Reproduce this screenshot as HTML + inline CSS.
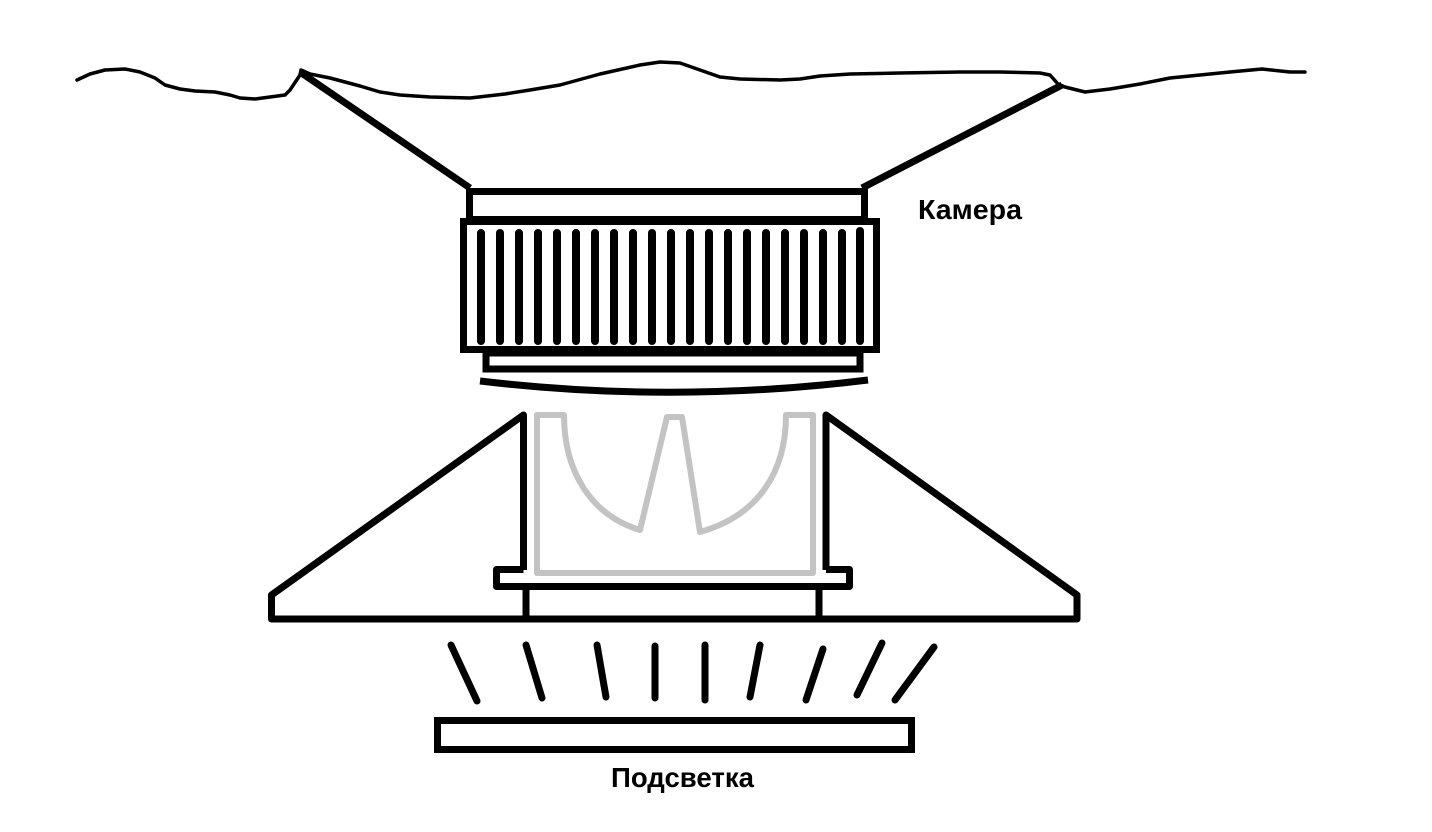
<!DOCTYPE html>
<html><head><meta charset="utf-8"><style>
html,body{margin:0;padding:0;background:#fff;}
svg{display:block;}
text{font-family:"Liberation Sans",sans-serif;font-weight:bold;font-size:28px;fill:#000;}
</style></head><body>
<svg width="1432" height="832" viewBox="0 0 1432 832" xmlns="http://www.w3.org/2000/svg">
<rect width="1432" height="832" fill="#fff"/>
<polyline fill="none" stroke="#000" stroke-width="3.5" stroke-linejoin="round" stroke-linecap="round"
 points="77,80 90,74 105,70 125,69 140,72 155,78 165,85 180,89 195,91 215,92 230,95 240,98 255,99 285,95 290,90 300,75 301,70 310,74 330,78 360,86 380,92 400,95 430,97 470,98 505,94 530,90 560,85 600,74 640,65 660,62 680,63 700,70 720,77 740,79 780,80 800,79 820,76 850,74 900,73 960,72 1000,72 1040,73 1050,75 1058,84 1065,87 1085,92 1110,89 1140,84 1170,78 1200,75 1230,72 1262,69 1290,72 1305,72"/>
<line x1="300" y1="72" x2="470" y2="188" stroke="#000" stroke-width="7"/>
<line x1="862" y1="188" x2="1062" y2="85" stroke="#000" stroke-width="7"/>
<rect x="469.5" y="191.5" width="395" height="28" fill="none" stroke="#000" stroke-width="7"/>
<rect x="463.5" y="221.5" width="413" height="128" fill="#fff" stroke="#000" stroke-width="7"/>
<rect x="486" y="353" width="374" height="16" fill="none" stroke="#000" stroke-width="7"/>
<path d="M480,381 Q674,404 868,380" fill="none" stroke="#000" stroke-width="7"/>
<g stroke="#000" stroke-width="8" stroke-linecap="round">
<line x1="481" y1="233" x2="481" y2="341"/><line x1="500" y1="233" x2="500" y2="341"/>
<line x1="519" y1="233" x2="519" y2="341"/><line x1="538" y1="233" x2="538" y2="341"/>
<line x1="557" y1="233" x2="557" y2="341"/><line x1="576" y1="233" x2="576" y2="341"/>
<line x1="595" y1="233" x2="595" y2="341"/><line x1="614" y1="233" x2="614" y2="341"/>
<line x1="633" y1="233" x2="633" y2="341"/><line x1="652" y1="233" x2="652" y2="341"/>
<line x1="671" y1="233" x2="671" y2="341"/><line x1="690" y1="233" x2="690" y2="341"/>
<line x1="709" y1="233" x2="709" y2="341"/><line x1="728" y1="233" x2="728" y2="341"/>
<line x1="747" y1="233" x2="747" y2="341"/><line x1="766" y1="233" x2="766" y2="341"/>
<line x1="785" y1="233" x2="785" y2="341"/><line x1="804" y1="233" x2="804" y2="341"/>
<line x1="823" y1="233" x2="823" y2="341"/><line x1="842" y1="233" x2="842" y2="341"/>
<line x1="860" y1="231" x2="860" y2="341"/>
</g>
<path d="M564,415 L537,415 L537,573 L813,573 L813,415 L786,415 C786,470 760,515 700,532 L682,417 L667,417 L640,530 C590,515 564,470 564,415 Z" fill="none" stroke="#c3c3c3" stroke-width="6" stroke-linejoin="round"/>
<g fill="none" stroke="#000" stroke-width="7" stroke-linejoin="round">
<path d="M523.5,570 L523.5,415 L271.5,595 L271.5,619 L1077,619 L1077,595 L826,415 L826,570"/>
<path d="M523.5,569.5 L496.5,569.5 L496.5,586.5 L849.5,586.5 L849.5,569.5 L826,569.5"/>
<line x1="526" y1="587" x2="526" y2="619"/>
<line x1="819" y1="587" x2="819" y2="619"/>
</g>
<g stroke="#000" stroke-width="7" stroke-linecap="round">
<line x1="451" y1="645" x2="477" y2="701"/>
<line x1="526" y1="645" x2="542" y2="698"/>
<line x1="597" y1="645" x2="606" y2="697"/>
<line x1="655" y1="646" x2="655" y2="698"/>
<line x1="705" y1="645" x2="705" y2="700"/>
<line x1="760" y1="645" x2="750" y2="697"/>
<line x1="823" y1="649" x2="806" y2="700"/>
<line x1="882" y1="643" x2="857" y2="695"/>
<line x1="934" y1="647" x2="895" y2="700"/>
</g>
<rect x="437.5" y="720.5" width="474" height="29" fill="none" stroke="#000" stroke-width="7"/>
<text x="918" y="219" textLength="104" lengthAdjust="spacingAndGlyphs">Камера</text>
<text x="611" y="787" textLength="143" lengthAdjust="spacingAndGlyphs">Подсветка</text>
</svg>
</body></html>
